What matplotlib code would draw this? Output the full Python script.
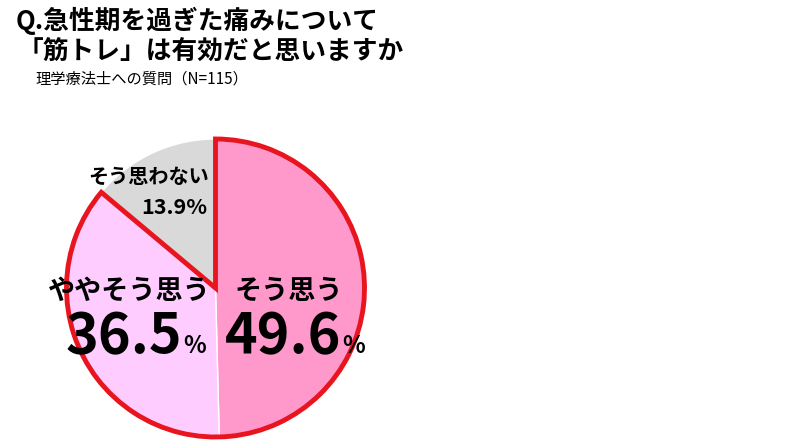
import matplotlib
matplotlib.use("Agg")
import matplotlib.pyplot as plt
from matplotlib.patches import Wedge

plt.rcParams['font.family'] = ['Noto Sans CJK JP', 'DejaVu Sans']

labels = ['そう思う', 'ややそう思う', 'そう思わない']
values = [49.6, 36.5, 13.9]
colors = ['#FF99CC', '#FFCCFF', '#D9D9D9']

W, H = 791, 444
fig = plt.figure(figsize=(W / 100, H / 100), dpi=100)
ax = fig.add_axes([0, 0, 1, 1])

cx, cy, r = 215.5, H - 288, 149
ax.pie(values, colors=colors, startangle=90, counterclock=False,
       center=(cx, cy), radius=r, frame=True,
       wedgeprops=dict(edgecolor='white', linewidth=1))
ax.set_xlim(0, W)
ax.set_ylim(0, H)
ax.set_aspect('equal')
ax.axis('off')

# red outline around "そう思う" + "ややそう思う"
agree = values[0] + values[1]
ax.add_patch(Wedge((cx, cy), r, 90 - 360 * agree / 100, 90, fill=False,
                   edgecolor='#E8141E', linewidth=3.5, joinstyle='miter'))

# title
ax.text(16, H - 21, 'Q.急性期を過ぎた痛みについて', fontsize=18.5, fontweight='bold',
        va='center', ha='left')
ax.text(18, H - 51, '「筋トレ」は有効だと思いますか', fontsize=18.5, fontweight='bold',
        va='center', ha='left')
ax.text(35, H - 79, '理学療法士への質問（N=115）', fontsize=11, va='center', ha='left')

# labels
ax.text(289, H - 291, labels[0], fontsize=19.5, fontweight='bold', ha='center', va='center')
ax.text(341, H - 337, f'{values[0]}', fontsize=40, fontweight='bold', ha='right', va='center')
ax.text(342, H - 346, '%', fontsize=17, fontweight='bold', ha='left', va='center')

ax.text(129, H - 291, labels[1], fontsize=19.5, fontweight='bold', ha='center', va='center')
ax.text(182, H - 337, f'{values[1]}', fontsize=40, fontweight='bold', ha='right', va='center')
ax.text(183, H - 346, '%', fontsize=17, fontweight='bold', ha='left', va='center')

ax.text(149, H - 176, labels[2], fontsize=14.5, fontweight='bold', ha='center', va='center')
ax.text(174, H - 207, f'{values[2]}%', fontsize=15.5, fontweight='bold', ha='center', va='center')

fig.savefig('out.png', dpi=100)
